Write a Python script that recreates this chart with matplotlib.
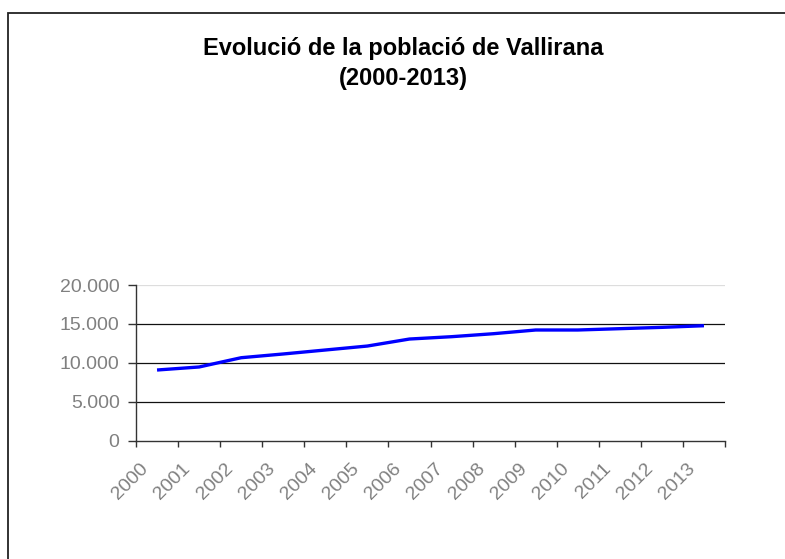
import numpy as np
import matplotlib.pyplot as plt
import matplotlib.patches as patches
from matplotlib.ticker import FuncFormatter

# Dades de població (llegides del gràfic)
anys = ['2000', '2001', '2002', '2003', '2004', '2005', '2006',
        '2007', '2008', '2009', '2010', '2011', '2012', '2013']
poblacio = [9080, 9470, 10660, 11140, 11650, 12160, 13060,
            13360, 13745, 14220, 14220, 14390, 14560, 14770]

plt.rcParams['font.family'] = ['Liberation Sans', 'DejaVu Sans']

fig = plt.figure(figsize=(7.85, 5.59), dpi=100)
ax = fig.add_axes([136 / 785, 1 - 440.7 / 559, (725 - 136) / 785, (440.7 - 285) / 559])

# marc exterior (només es veu dalt i a l'esquerra)
fig.patches.append(patches.Rectangle((8 / 785, -0.1), 1.2, 1 - 13 / 559 + 0.1,
                                     transform=fig.transFigure, fill=False,
                                     edgecolor='#222222', linewidth=1.3))

x = np.arange(len(anys)) + 0.5
ax.plot(x, poblacio, color='#0000FF', linewidth=2.4, solid_capstyle='butt')

ax.set_xlim(0, len(anys))
ax.set_ylim(0, 20000)

# línies de graella
for v in [5000, 10000, 15000]:
    ax.axhline(v, color='#111111', linewidth=0.9, zorder=0)
ax.axhline(20000, color='#dddddd', linewidth=0.9, zorder=0)

ax.set_yticks([0, 5000, 10000, 15000, 20000])
ax.yaxis.set_major_formatter(FuncFormatter(lambda v, p: f'{int(v):,}'.replace(',', '.')))
ax.tick_params(axis='y', direction='out', length=5.8, width=1, color='#333333',
               labelcolor='#808080', labelsize=14, pad=6)

ax.set_xticks(np.arange(len(anys) + 1))
ax.set_xticklabels([])
ax.set_xticks(x - 0.12, minor=True)
ax.set_xticklabels(anys, minor=True, rotation=45, ha='right', va='top',
                   color='#808080', fontsize=14)
ax.tick_params(axis='x', which='major', direction='out', length=4.5, width=1, color='#333333')
ax.tick_params(axis='x', which='minor', length=0, pad=14)

for s in ['top', 'right']:
    ax.spines[s].set_visible(False)
for s in ['left', 'bottom']:
    ax.spines[s].set_color('#333333')
    ax.spines[s].set_linewidth(1)

fig.text(403 / 785, 1 - 55 / 559, 'Evolució de la població de Vallirana',
         ha='center', va='baseline', fontsize=17, fontweight='bold')
fig.text(403 / 785, 1 - 85 / 559, '(2000-2013)',
         ha='center', va='baseline', fontsize=17, fontweight='bold')

fig.savefig('out.png', dpi=100)
